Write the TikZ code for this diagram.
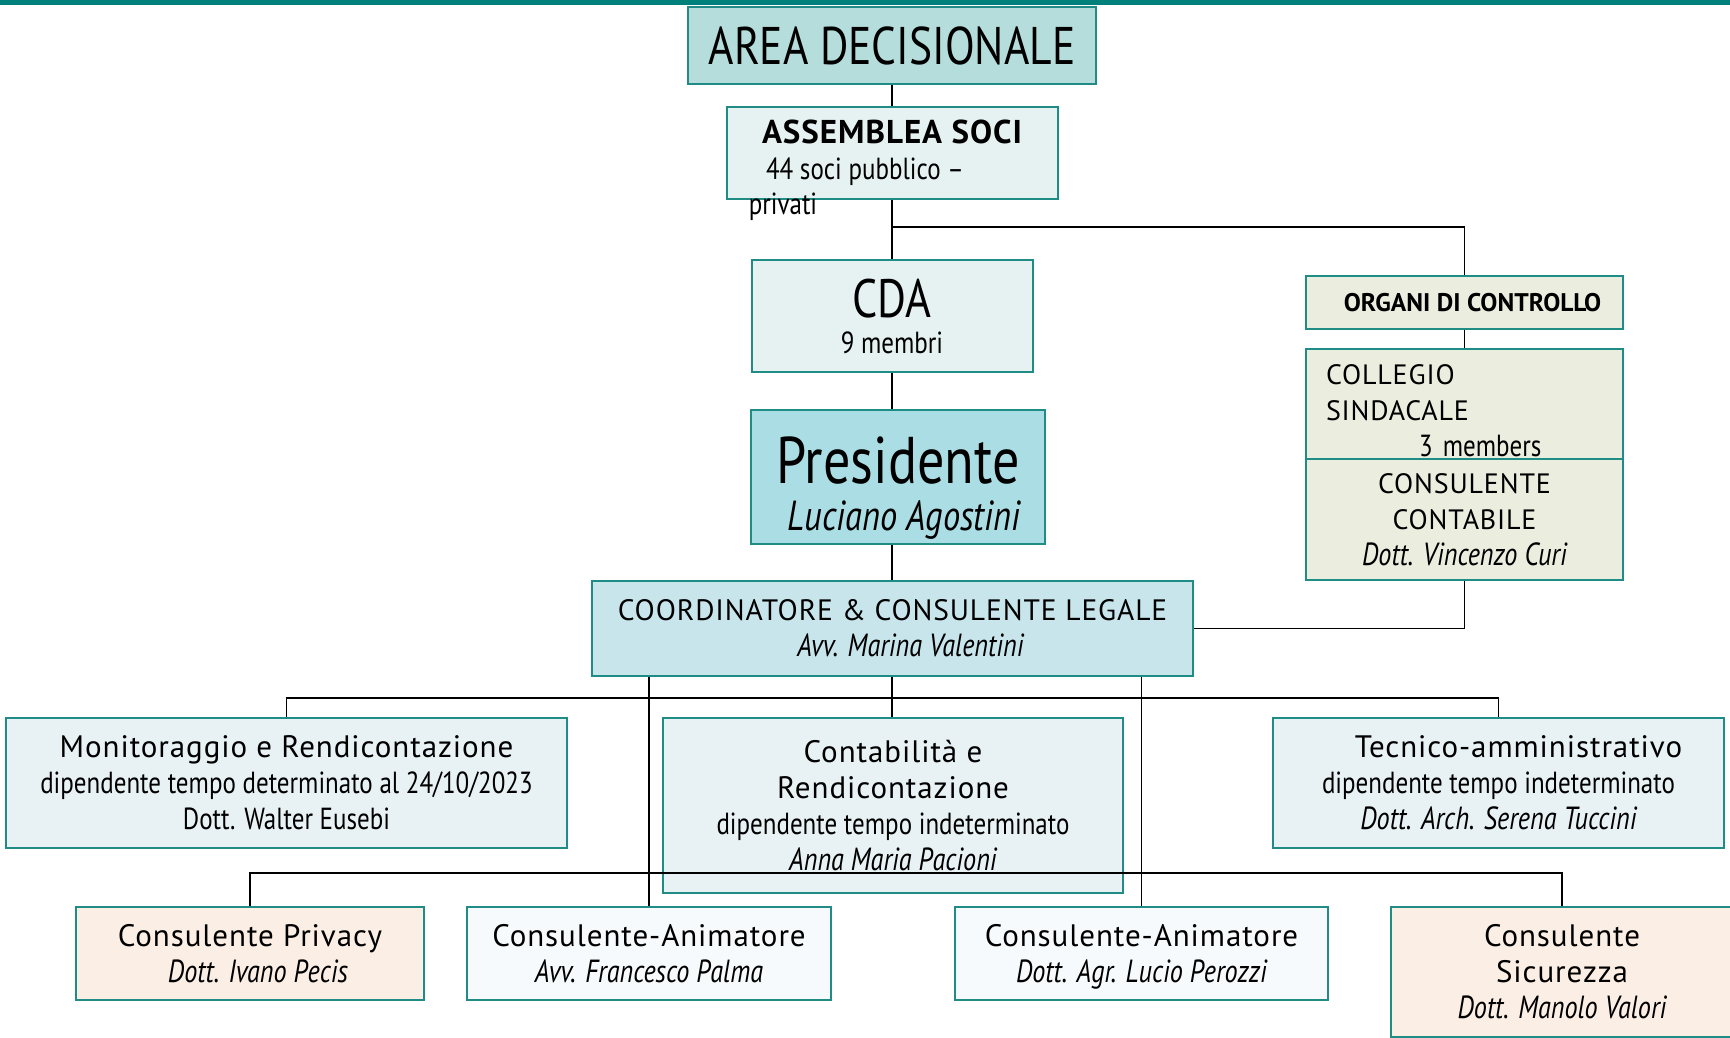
\documentclass[tikz,border=0pt]{standalone}
\usepackage{fontspec}
\setmainfont{PT Sans}
\newfontfamily\narrowfont[FakeStretch=0.82]{PT Sans}
\newfontfamily\spacedfont[LetterSpace=3]{PT Sans}

\definecolor{tealline}{RGB}{32,140,134}
\definecolor{topbar}{RGB}{0,128,122}
\definecolor{areafill}{RGB}{180,221,219}
\definecolor{palefill}{RGB}{230,242,242}
\definecolor{presfill}{RGB}{171,221,228}
\definecolor{coordfill}{RGB}{201,229,236}
\definecolor{olivefill}{RGB}{235,238,222}
\definecolor{stafffill}{RGB}{232,242,244}
\definecolor{peachfill}{RGB}{251,238,228}
\definecolor{whitefill}{RGB}{247,250,252}

\newcommand{\boxtitle}{\spacedfont\fontsize{31pt}{38pt}\selectfont}
\newcommand{\boxcaps}{\spacedfont\fontsize{28pt}{34pt}\selectfont}
\newcommand{\who}{\itshape\fontsize{32pt}{36pt}\selectfont}

\begin{document}
\begin{tikzpicture}[x=1pt, y=-1pt,
					line width=1.3pt,
					org box/.style={rectangle, draw=tealline, line width=2pt, inner sep=0pt,
						align=center, font=\narrowfont\fontsize{30.5pt}{36pt}\selectfont},
					area box/.style={org box, fill=areafill},
					pale box/.style={org box, fill=palefill},
					pres box/.style={org box, fill=presfill},
					coord box/.style={org box, fill=coordfill},
					control box/.style={org box, fill=olivefill, minimum width=317},
					staff box/.style={org box, fill=stafffill, minimum height=130},
					extern box/.style={org box, fill=peachfill},
					animator box/.style={org box, fill=whitefill, minimum height=93}]

  \useasboundingbox (0,0) rectangle (1730,1038);
  \fill[topbar] (0,0) rectangle (1730,5);

  % decisional area
  \node[area box, minimum width=408, minimum height=77] (area) at (892,45.5)
    {\fontsize{53pt}{53pt}\selectfont AREA DECISIONALE};
  \node[pale box, minimum width=331, minimum height=92] (assem) at (892,153)
    {{\spacedfont\bfseries\fontsize{33pt}{36pt}\selectfont ASSEMBLEA SOCI}\\ 44 soci pubblico –\hspace*{54pt}};
  \node[font=\narrowfont\fontsize{30.5pt}{36pt}\selectfont] (privati) at (783,207) {privati};
  \node[pale box, minimum width=281, minimum height=112] (cda) at (892,316)
    {{\fontsize{54pt}{54pt}\selectfont CDA}\\ 9 membri};
  \node[pres box, minimum width=294, minimum height=134] (pres) at (898,477)
    {{\fontsize{66pt}{66pt}\selectfont\rule{0pt}{68pt}Presidente}\\[11pt] {\itshape\fontsize{42pt}{44pt}\selectfont\hspace*{12pt}Luciano Agostini}};
  \node[coord box, minimum width=601, minimum height=95] (coord) at (892.5,628.5)
    {{\boxcaps\fontsize{29.5pt}{34pt}\selectfont COORDINATORE \& CONSULENTE LEGALE}\\ {\who\hspace*{36pt}Avv. Marina Valentini}};

  % control bodies
  \node[control box, minimum height=53] (organi) at (1464.5,302.5)
    {{\normalfont\bfseries\fontsize{25.5pt}{30pt}\selectfont\hspace*{16pt}ORGANI DI CONTROLLO}};
  \node[control box, minimum height=110, text width=277, align=left] (collegio) at (1464.5,404)
    {{\boxcaps\rule{0pt}{33pt}COLLEGIO}\\ {\boxcaps SINDACALE}\\ \hspace*{93pt}3 members};
  \node[control box, minimum height=121] (contab) at (1464.5,519.5)
    {{\boxcaps CONSULENTE}\\ {\boxcaps CONTABILE}\\ {\who Dott. Vincenzo Curi}};

  % staff
  \node[staff box, minimum width=561] (monit) at (286.5,783)
    {{\boxtitle Monitoraggio e Rendicontazione}\\ dipendente tempo determinato al 24/10/2023\\ Dott. Walter Eusebi};
  \node[staff box, minimum width=460, minimum height=175] (contabil) at (893,805.5)
    {{\boxtitle Contabilità e}\\ {\boxtitle Rendicontazione}\\ dipendente tempo indeterminato\\ {\who Anna Maria Pacioni}};
  \node[staff box, minimum width=451] (tecnico) at (1498.5,783)
    {{\boxtitle\hspace*{40pt}Tecnico-amministrativo}\\ dipendente tempo indeterminato\\ {\who Dott. Arch. Serena Tuccini}};

  % consultants
  \node[extern box, minimum width=348, minimum height=93] (privacy) at (250,953.5)
    {{\boxtitle Consulente Privacy}\\ {\who\hspace*{16pt}Dott. Ivano Pecis}};
  \node[animator box, minimum width=364] (anim1) at (649,953.5)
    {{\boxtitle Consulente-Animatore}\\ {\who Avv. Francesco Palma}};
  \node[animator box, minimum width=373] (anim2) at (1141.5,953.5)
    {{\boxtitle\rule{0pt}{29pt}Consulente-Animatore}\\ {\who Dott. Agr. Lucio Perozzi}};
  \node[extern box, minimum width=342, minimum height=130] (sicur) at (1562,972)
    {{\boxtitle Consulente}\\ {\boxtitle Sicurezza}\\ {\who Dott. Manolo Valori}};

  % connectors
  \coordinate (split) at (892,227);
  \coordinate (bus1) at (892,698);
  \coordinate (bus2) at (892,873);

  \draw (area) -- (assem);
  \draw (assem.south) -- (cda.north);
  \draw (split) -| (organi.north);
  \draw (organi.south) -- (collegio.north);
  \draw (cda.south) -- (cda.south |- pres.north);
  \draw (pres.south -| cda.south) -- (coord.north -| cda.south);
  \draw (contab.south) |- (coord.east);
  \draw (coord.south -| bus1) -- (contabil.north -| bus1);
  \draw (monit.north) |- (bus1) -| (tecnico.north);
  \draw (coord.south -| anim1.north) -- (anim1.north);
  \draw (coord.south -| anim2.north) -- (anim2.north);
  \draw (privacy.north) |- (bus2) -| (sicur.north);
\end{tikzpicture}
\end{document}
